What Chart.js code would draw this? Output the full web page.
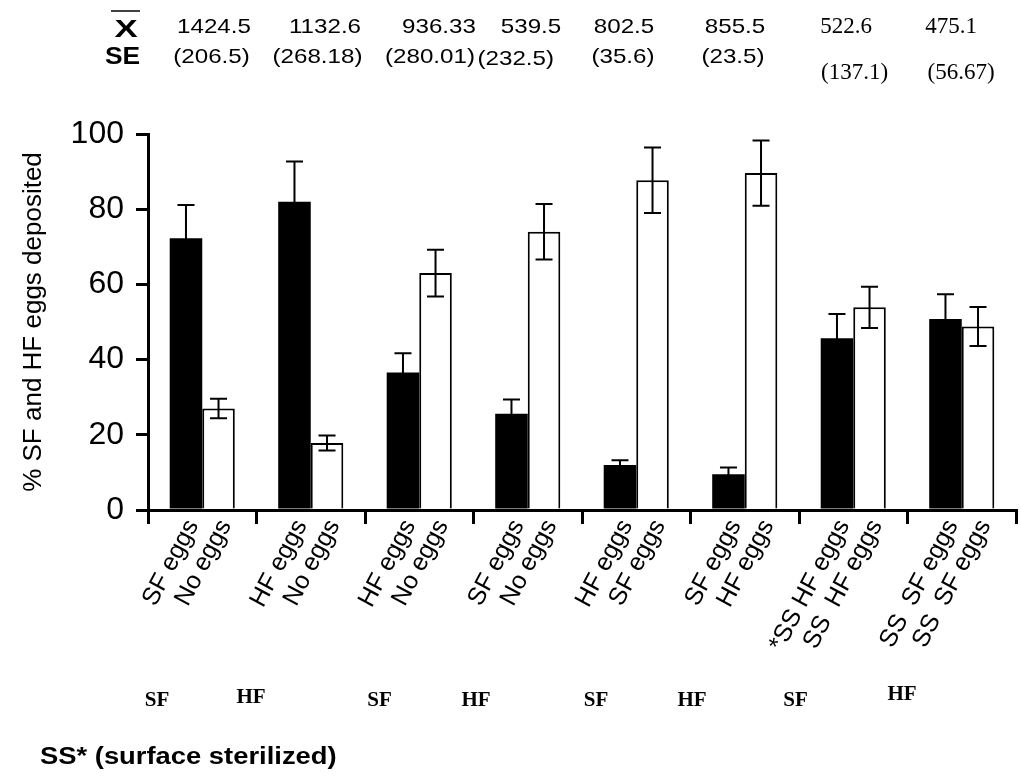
<!DOCTYPE html>
<html>
<head>
<meta charset="utf-8">
<script src="https://cdn.jsdelivr.net/npm/chart.js@4.4.1/dist/chart.umd.min.js"></script>
<style>
  html, body { margin: 0; padding: 0; background: #fff; }
  #wrap { position: relative; width: 1021px; height: 779px; }
</style>
</head>
<body>
<div id="wrap"><canvas id="chart"></canvas></div>
<script>
// Choice pairs offered to the females (first option = black bar, second = white bar)
const pairs = [
  'SF eggs / No eggs', 'HF eggs / No eggs', 'HF eggs / No eggs', 'SF eggs / No eggs',
  'HF eggs / SF eggs', 'SF eggs / HF eggs', '*SS HF eggs / SS HF eggs', 'SS SF eggs / SS SF eggs'
];
const firstLabels  = ['SF eggs', 'HF eggs', 'HF eggs', 'SF eggs', 'HF eggs', 'SF eggs', '*SS HF eggs', 'SS  SF eggs'];
const secondLabels = ['No eggs', 'No eggs', 'No eggs', 'No eggs', 'SF eggs', 'HF eggs', 'SS  HF eggs', 'SS  SF eggs'];

// % of eggs deposited on each option, with standard errors
const firstPct  = [72.3, 82.0, 36.6, 25.6, 12.0, 9.5, 45.7, 50.8];
const firstSE   = [8.8, 10.7, 5.1, 3.8, 1.2, 1.8, 6.4, 6.6];
const secondPct = [27.0, 17.8, 63.0, 74.0, 87.7, 89.6, 53.9, 48.8];
const secondSE  = [2.6, 2.0, 6.2, 7.4, 8.7, 8.7, 5.5, 5.2];

// Mean total eggs per test and its SE
const meanEggs = ['1424.5', '1132.6', '936.33', '539.5', '802.5', '855.5', '522.6', '475.1'];
const seEggs   = ['(206.5)', '(268.18)', '(280.01)', '(232.5)', '(35.6)', '(23.5)', '(137.1)', '(56.67)'];

// Female origin of each test
const femaleTags = ['SF', 'HF', 'SF', 'HF', 'SF', 'HF', 'SF', 'HF'];
const footnote = 'SS* (surface sterilized)';

const yTicks = [0, 20, 40, 60, 80, 100];

// ---- layout for the annotation texts ----
const SANS = "'Liberation Sans', Arial, sans-serif";
const SERIF = "'Liberation Serif', 'Times New Roman', serif";
const statFace   = ['sans', 'sans', 'sans', 'sans', 'sans', 'sans', 'serif', 'serif'];
const meanShift  = [11.75, 14.25, 19.75, 3.25, -12.25, -9.75, -7.25, -10.75];
const seShift    = [9.25, 6.75, 10.75, -12, -13.25, -11.75, 1.25, -0.75];
const seBase     = [63, 63, 63, 65, 63, 63, 79, 79];
const tagShift   = [-45.25, -59.75, -39.75, -51.75, -40.25, -52.75, -57.75, -59.75];
const tagBase    = [706, 703, 706, 706, 706, 706, 706, 700];
const CAP = 8.5;

Chart.defaults.font.family = SANS;
Chart.defaults.color = '#000';

function put(ctx, text, x, y, font, align, sx) {
  ctx.save();
  ctx.font = font;
  ctx.textAlign = align;
  ctx.textBaseline = 'alphabetic';
  ctx.fillStyle = '#000';
  ctx.translate(x, y);
  ctx.scale(sx, 1);
  ctx.fillText(text, 0, 0);
  ctx.restore();
}

const errorBars = {
  id: 'errorBars',
  afterDatasetsDraw(chart) {
    const { ctx } = chart;
    const y = chart.scales.y;
    ctx.save();
    ctx.strokeStyle = '#000';
    ctx.lineWidth = 2;
    chart.data.datasets.forEach((ds, di) => {
      chart.getDatasetMeta(di).data.forEach((bar, i) => {
        const v = ds.data[i], e = ds.errors[i];
        const yt = y.getPixelForValue(v + e), yb = y.getPixelForValue(v - e);
        const x = bar.x;
        ctx.beginPath();
        ctx.moveTo(x, yt); ctx.lineTo(x, yb);
        ctx.moveTo(x - CAP, yt); ctx.lineTo(x + CAP, yt);
        ctx.moveTo(x - CAP, yb); ctx.lineTo(x + CAP, yb);
        ctx.stroke();
      });
    });
    ctx.restore();
  }
};

const annotations = {
  id: 'annotations',
  afterDraw(chart) {
    const { ctx } = chart;
    const x = chart.scales.x;
    const axisY = x.top;

    // slanted bar labels under the axis
    [firstLabels, secondLabels].forEach((labels, di) => {
      chart.getDatasetMeta(di).data.forEach((bar, i) => {
        ctx.save();
        ctx.font = '25px ' + SANS;
        ctx.fillStyle = '#000';
        ctx.textAlign = 'right';
        ctx.textBaseline = 'alphabetic';
        ctx.translate(bar.x + 13, axisY + 15);
        ctx.rotate(-62 * Math.PI / 180);
        ctx.fillText(labels[i], 0, 0);
        ctx.restore();
      });
    });

    // statistics rows above the plot
    put(ctx, 'X', 126, 36.5, 'bold 24px ' + SANS, 'center', 1.45);
    ctx.save();
    ctx.strokeStyle = '#000';
    ctx.lineWidth = 1.5;
    ctx.beginPath(); ctx.moveTo(111, 11); ctx.lineTo(140, 11); ctx.stroke();
    ctx.restore();
    put(ctx, 'SE', 122.5, 64, 'bold 24px ' + SANS, 'center', 1.1);

    meanEggs.forEach((t, i) => {
      const cx = x.getPixelForValue(i);
      const serif = statFace[i] === 'serif';
      const font = serif ? '23px ' + SERIF : '21px ' + SANS;
      const sx = serif ? 1.0 : 1.15;
      put(ctx, t, cx + meanShift[i], 33, font, 'center', sx);
      put(ctx, seEggs[i], cx + seShift[i], seBase[i], font, 'center', sx);
    });

    // female origin tags
    femaleTags.forEach((t, i) => {
      const cx = x.getPixelForValue(i);
      put(ctx, t, cx + tagShift[i], tagBase[i], 'bold 21px ' + SERIF, 'center', 1.0);
    });

    put(ctx, footnote, 40, 764, 'bold 23px ' + SANS, 'left', 1.19);
  }
};

new Chart(document.getElementById('chart'), {
  type: 'bar',
  data: {
    labels: pairs,
    datasets: [
      {
        label: 'first option',
        data: firstPct,
        errors: firstSE,
        backgroundColor: '#000',
        borderColor: '#000',
        borderWidth: 0,
        categoryPercentage: 0.6,
        barPercentage: 1.0
      },
      {
        label: 'second option',
        data: secondPct,
        errors: secondSE,
        backgroundColor: '#fff',
        borderColor: '#000',
        borderWidth: 2,
        categoryPercentage: 0.6,
        barPercentage: 1.0
      }
    ]
  },
  options: {
    responsive: true,
    maintainAspectRatio: false,
    devicePixelRatio: 1,
    animation: false,
    layout: { padding: { top: 134, right: 5, left: 0, bottom: 0 } },
    plugins: { legend: { display: false }, tooltip: { enabled: false } },
    scales: {
      x: {
        offset: true,
        grid: { offset: true, drawOnChartArea: false, drawTicks: true, tickLength: 14, lineWidth: 3, color: '#000' },
        border: { display: true, color: '#000', width: 3 },
        ticks: { display: false },
        afterFit(scale) { scale.height = 269; }
      },
      y: {
        min: 0,
        max: 100,
        afterBuildTicks(scale) { scale.ticks = yTicks.map(v => ({ value: v })); },
        ticks: { color: '#000', font: { size: 32, family: SANS }, padding: 12 },
        grid: { drawOnChartArea: false, drawTicks: true, tickLength: 12, lineWidth: 3, color: '#000' },
        border: { display: true, color: '#000', width: 3 },
        title: {
          display: true,
          text: '% SF and HF eggs deposited',
          color: '#000',
          font: { size: 26, family: SANS },
          padding: { top: 18, bottom: 0 }
        },
        afterFit(scale) { scale.width = 148; }
      }
    }
  },
  plugins: [errorBars, annotations]
});
</script>
</body>
</html>
